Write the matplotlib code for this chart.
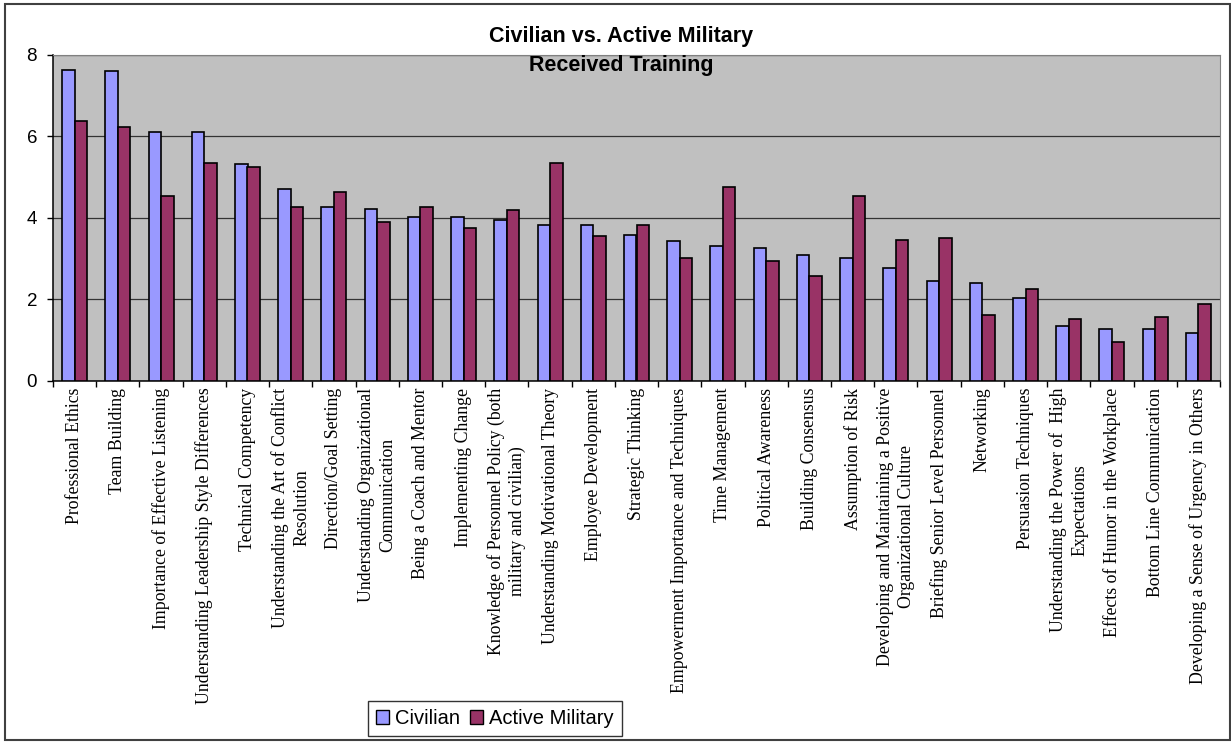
import numpy as np
import matplotlib
matplotlib.use("Agg")
import matplotlib.pyplot as plt
from matplotlib.patches import Rectangle, Patch

# training topics and mean scores per group
topics = [
    "Professional Ethics",
    "Team Building",
    "Importance of Effective Listening",
    "Understanding Leadership Style Differences",
    "Technical Competency",
    "Understanding the Art of Conflict\nResolution",
    "Direction/Goal Setting",
    "Understanding Organizational\nCommunication",
    "Being a Coach and Mentor",
    "Implementing Change",
    "Knowledge of Personnel Policy (both\nmilitary and civilian)",
    "Understanding Motivational Theory",
    "Employee Development",
    "Strategic Thinking",
    "Empowerment Importance and Techniques",
    "Time Management",
    "Political Awareness",
    "Building Consensus",
    "Assumption of Risk",
    "Developing and Maintaining a Positive\nOrganizational Culture",
    "Briefing Senior Level Personnel",
    "Networking",
    "Persuasion Techniques",
    "Understanding the Power of  High\nExpectations",
    "Effects of Humor in the Workplace",
    "Bottom Line Communication",
    "Developing a Sense of Urgency in Others",
]
civilian = [7.63, 7.60, 6.11, 6.11, 5.31, 4.69, 4.26, 4.22, 4.02, 4.02, 3.93, 3.82, 3.82,
            3.57, 3.42, 3.30, 3.26, 3.09, 3.01, 2.77, 2.45, 2.40, 2.04, 1.33, 1.28, 1.28, 1.17]
military = [6.38, 6.23, 4.54, 5.34, 5.23, 4.26, 4.62, 3.90, 4.26, 3.74, 4.18, 5.34, 3.54,
            3.81, 3.01, 4.74, 2.93, 2.57, 4.54, 3.46, 3.50, 1.60, 2.24, 1.52, 0.96, 1.56, 1.88]
y_ticks = [0, 2, 4, 6, 8]

civ_color = "#9999FF"
mil_color = "#993366"

W, H = 1231, 744
fig = plt.figure(figsize=(W / 100, H / 100), dpi=100)
ax = fig.add_axes([53 / W, 1 - 380.7 / H, (1220 - 53) / W, (380.7 - 54.5) / H])
ax.set_facecolor("#C0C0C0")

x = np.arange(len(topics))
bw = 0.29
ax.bar(x - bw / 2, civilian, bw, color=civ_color, edgecolor="black", linewidth=1.2, zorder=3)
ax.bar(x + bw / 2, military, bw, color=mil_color, edgecolor="black", linewidth=1.2, zorder=3)

ax.set_xlim(-0.5, len(topics) - 0.5)
ax.set_ylim(0, 8)
ax.set_yticks(y_ticks)
ax.yaxis.grid(True, color="#333333", linewidth=0.9, zorder=1)
ax.set_axisbelow(True)

# category labels centred, tick marks between categories
ax.set_xticks(x)
ax.set_xticklabels(topics, rotation=90, va="top", ha="center", multialignment="center",
                   fontsize=12.8, family="Liberation Serif", linespacing=1.3)
ax.set_xticks(np.arange(len(topics) + 1) - 0.5, minor=True)
ax.tick_params(axis="x", which="major", length=0, pad=5)
ax.tick_params(axis="x", which="minor", length=4, width=1, direction="out")
ax.tick_params(axis="y", length=4.5, width=1, direction="out", pad=7, labelsize=13.5)
for lab in ax.get_yticklabels():
    lab.set_family("Liberation Sans")

for side in ("top", "right"):
    ax.spines[side].set_color("#808080")
for side in ("left", "bottom"):
    ax.spines[side].set_color("black")
    ax.spines[side].set_linewidth(1.1)

fig.text(621 / W, 1 - 51 / H, "Civilian vs. Active Military\nReceived Training",
         ha="center", va="center", fontsize=15.5, fontweight="bold",
         family="Liberation Sans", linespacing=1.5)

handles = [Patch(facecolor=civ_color, edgecolor="black", linewidth=1),
           Patch(facecolor=mil_color, edgecolor="black", linewidth=1)]
leg = fig.legend(handles, ["Civilian", "Active Military"], loc="center",
                 bbox_to_anchor=(495 / W, 1 - 718.5 / H), ncol=2, frameon=True,
                 fancybox=False, edgecolor="black", handlelength=0.65, handleheight=0.65,
                 handletextpad=0.3, columnspacing=0.5, borderpad=0.4,
                 prop={"family": "Liberation Sans", "size": 14.5})
leg.get_frame().set_linewidth(1)

fig.patches.append(Rectangle((5 / W, 4 / H), 1225 / W, 736 / H, transform=fig.transFigure,
                             fill=False, edgecolor="#404040", linewidth=1.5))

fig.savefig("out.png", dpi=100)
